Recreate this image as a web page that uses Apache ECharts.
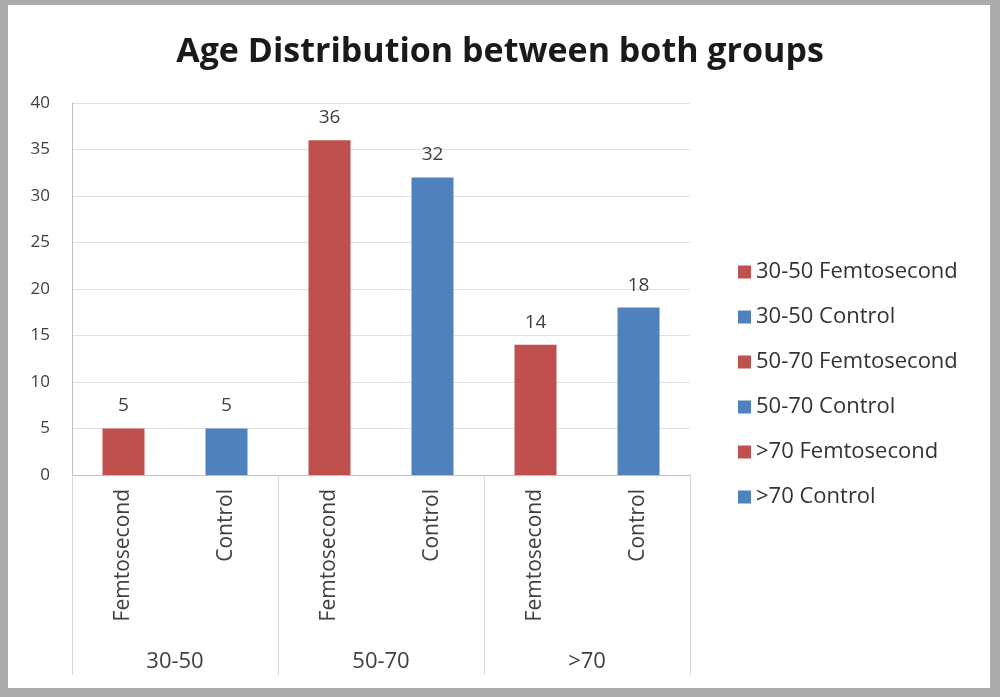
<!DOCTYPE html>
<html>
<head>
<meta charset="utf-8">
<script src="https://cdn.jsdelivr.net/npm/echarts@6/dist/echarts.min.js"></script>
<style>html,body{margin:0;padding:0;}#c{width:1000px;height:697px;}</style>
</head>
<body>
<div id="c"></div>
<script>
const titleText = 'Age Distribution between both groups';
const subCategories = ['Femtosecond', 'Control', 'Femtosecond', 'Control', 'Femtosecond', 'Control'];
const groups = ['30-50', '50-70', '>70'];
const seriesNames = ['30-50 Femtosecond', '30-50 Control', '50-70 Femtosecond', '50-70 Control', '>70 Femtosecond', '>70 Control'];
const values = [5, 5, 36, 32, 14, 18];
const yTicks = [0, 5, 10, 15, 20, 25, 30, 35, 40];

const RED = '#C0504D', BLUE = '#4F81BD';
const FONT = 'Open Sans';
const series = seriesNames.map((name, i) => ({
  name: name,
  type: 'bar',
  stack: 'all',
  barWidth: 42,
  itemStyle: { color: i % 2 === 0 ? RED : BLUE },
  label: { show: true, position: 'top', distance: 13, fontSize: 19, color: '#404040', fontFamily: FONT },
  data: subCategories.map((c, j) => (j === i ? values[i] : '-'))
}));

const chart = echarts.init(document.getElementById('c'));
chart.setOption({
  backgroundColor: '#ababab',
  animation: false,
  graphic: [{
    type: 'rect', z: -100, silent: true,
    shape: { x: 8, y: 5, width: 982, height: 683 },
    style: { fill: '#ffffff' }
  }],
  title: {
    text: titleText, left: 'center', top: 30,
    textStyle: { fontFamily: FONT, fontWeight: 'bold', fontSize: 34, color: '#1a1a1a' }
  },
  legend: {
    orient: 'vertical', left: 733, top: 256, itemGap: 23,
    itemWidth: 13, itemHeight: 13, icon: 'rect',
    data: seriesNames,
    textStyle: { fontFamily: FONT, fontSize: 22, color: '#333333' }
  },
  grid: { left: 72, right: 310, top: 103, bottom: 222 },
  xAxis: [{
    type: 'category', data: subCategories, position: 'bottom',
    axisLine: { show: true, lineStyle: { color: '#bfbfbf' } },
    axisTick: { show: false },
    axisLabel: { rotate: 90, margin: 14, fontSize: 21, color: '#404040', fontFamily: FONT }
  }, {
    type: 'category', data: groups, position: 'bottom', offset: 0,
    axisLine: { show: false },
    axisTick: { show: true, length: 200, lineStyle: { color: '#d9d9d9' } },
    axisLabel: { margin: 176, fontSize: 22, color: '#404040', fontFamily: FONT }
  }],
  yAxis: {
    type: 'value', min: yTicks[0], max: yTicks[yTicks.length - 1], interval: 5,
    axisLine: { show: true, lineStyle: { color: '#bfbfbf' } },
    axisTick: { show: false },
    splitLine: { lineStyle: { color: '#e0e0e0' } },
    axisLabel: { margin: 22, fontSize: 17, color: '#404040', fontFamily: FONT }
  },
  series: series
});
</script>
</body>
</html>
